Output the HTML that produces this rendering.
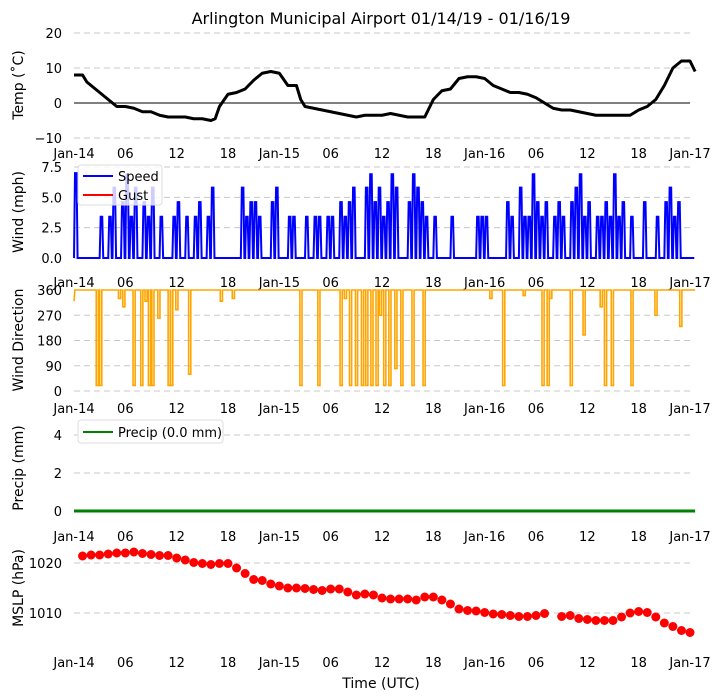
<!DOCTYPE html>
<html><head><meta charset="utf-8"><style>
body{margin:0;background:#fff;}
svg{display:block;font-family:"DejaVu Sans","Liberation Sans",sans-serif;}
</style></head><body>
<svg id="c" width="719" height="700" viewBox="0 0 719 700">
<text x="381" y="24" text-anchor="middle" font-size="16">Arlington Municipal Airport 01/14/19 - 01/16/19</text>
</svg>
<script>
const tempHours=[0,1,1.5,2,3,4,5,6,7,8,9,10,11,12,13,14,15,16,16.5,17,18,19,20,21,22,23,24,25,26,26.5,27,28,29,30,31,32,33,34,35,36,37,38,39,40,41,42,43,44,45,46,47,48,49,50,51,52,53,54,55,56,57,58,59,60,61,62,63,64,65,66,67,68,69,70,71,72,72.6];
const tempVals=[8,8,6,5,3,1,-1,-1,-1.5,-2.5,-2.5,-3.5,-4,-4,-4,-4.5,-4.5,-5,-4.5,-1,2.5,3,4,6.5,8.5,9,8.5,5,5,1,-1,-1.5,-2,-2.5,-3,-3.5,-4,-3.5,-3.5,-3.5,-3,-3.5,-4,-4,-4,1,3.5,4,7,7.5,7.5,7,5,4,3,3,2.5,1.5,0,-1.5,-2,-2,-2.5,-3,-3.5,-3.5,-3.5,-3.5,-3.5,-2,-1,1,5,10,12,12,9];
const windVals=[7,0,0,0,0,0,3.4,0,3.4,5.8,0,4.6,6.9,3.4,5.8,0,4.6,3.4,5.8,0,3.4,0,0,3.4,4.6,0,3.4,0,3.4,4.6,0,3.4,5.8,0,0,0,0,0,0,5.8,3.4,4.6,4.6,3.4,0,0,4.6,5.8,0,0,3.4,3.4,0,0,3.4,0,3.4,3.4,0,3.4,3.4,0,4.6,3.4,4.6,5.8,0,0,5.8,6.9,4.6,5.8,3.4,4.6,6.9,5.8,0,0,4.6,6.9,5.8,4.6,3.4,0,3.4,0,0,0,3.4,0,0,0,0,0,3.4,3.4,3.4,0,0,0,0,4.6,3.4,0,5.8,3.4,3.4,6.9,4.6,3.4,4.6,0,3.4,4.6,3.4,0,4.6,5.8,6.9,3.4,4.6,0,3.4,3.4,4.6,3.4,6.9,3.4,4.6,0,3.4,0,0,4.6,0,0,3.4,0,4.6,5.8,3.4,4.6,0,0,0];
const dirDipHours=[2.6,3.0,5.2,5.7,6.9,7.8,8.3,8.7,9.1,9.8,11.0,11.3,11.9,13.4,17.1,18.5,26.4,28.5,31.1,31.6,32.2,32.9,33.6,34.1,34.7,35.3,35.7,36.2,36.8,37.5,38.2,39.5,40.8,48.6,50.1,52.5,54.7,55.3,55.6,58.0,59.5,61.5,62.0,62.8,65.1,67.9,70.8];
const dirDipVals=[20,20,330,300,20,20,320,20,20,260,20,20,290,60,320,330,20,20,20,330,20,20,20,20,20,20,270,20,20,80,20,20,20,330,20,340,20,20,330,20,200,300,20,20,20,270,230];
const precipHours=[0,72.6];
const precipVals=[0,0];
const mslpHours=[1,2,3,4,5,6,7,8,9,10,11,12,13,14,15,16,17,18,19,20,21,22,23,24,25,26,27,28,29,30,31,32,33,34,35,36,37,38,39,40,41,42,43,44,45,46,47,48,49,50,51,52,53,54,55,57,58,59,60,61,62,63,64,65,66,67,68,69,70,71,72];
const mslpVals=[1021.4,1021.6,1021.6,1021.8,1022.0,1022.0,1022.2,1021.9,1021.7,1021.5,1021.5,1021.0,1020.6,1020.1,1019.9,1019.7,1019.9,1019.9,1019.0,1017.9,1016.7,1016.5,1015.8,1015.4,1015.0,1015.0,1014.9,1014.7,1014.5,1014.8,1014.8,1014.2,1013.6,1013.8,1013.6,1013.0,1012.8,1012.8,1012.8,1012.6,1013.2,1013.2,1012.6,1011.8,1010.8,1010.5,1010.4,1010.1,1009.8,1009.7,1009.5,1009.3,1009.3,1009.5,1009.9,1009.3,1009.5,1008.9,1008.7,1008.5,1008.5,1008.5,1009.2,1010.0,1010.3,1010.1,1009.2,1008.0,1007.3,1006.5,1006.1];
const xTickHours=[0,6,12,18,24,30,36,42,48,54,60,66,72];
const xTickLabels=["Jan-14","06","12","18","Jan-15","06","12","18","Jan-16","06","12","18","Jan-17"];

const NS="http://www.w3.org/2000/svg";
const svg=document.getElementById('c');
function mk(tag,attrs,parent){const e=document.createElementNS(NS,tag);for(const k in attrs)e.setAttribute(k,attrs[k]);(parent||svg).appendChild(e);return e;}
const X=h=>74+h*(616/72);
function lin(d0,d1,p0,p1){return v=>p0+(v-d0)*(p1-p0)/(d1-d0);}

function panel(name,yf,ticks,tickLabels,labelY,ylab,ylabY){
  const g=mk('g',{});
  
  
  ticks.forEach((t,i)=>{
    const y=yf(t);
    const gl=mk('line',{x1:74,x2:690,y1:y,y2:y,stroke:'#c8c8c8','stroke-dasharray':'6,4','stroke-width':1},g);
    
    
    const tl=mk('text',{x:62,y:y+5,'text-anchor':'end','font-size':13},g);
    tl.textContent=tickLabels[i];
    
    
  });
  xTickHours.forEach((h,i)=>{
    const t=mk('text',{x:X(h),y:labelY,'text-anchor':'middle','font-size':13},g);
    t.textContent=xTickLabels[i];
    
    
  });
  const yl=mk('text',{x:0,y:0,'text-anchor':'middle','font-size':14,transform:`translate(23,${ylabY}) rotate(-90)`},g);
  yl.textContent=ylab;
  
  
  return g;
}

// Temperature
const yT=lin(-10,20,138,33);
const gT=panel('temp',yT,[-10,0,10,20],['−10','0','10','20'],158,'Temp (˚C)',85);
const z=mk('line',{x1:74,x2:690,y1:yT(0),y2:yT(0),stroke:'#000','stroke-width':1},gT);


let d='';tempHours.forEach((h,i)=>{d+=(i?'L':'M')+`${X(h)} ${yT(tempVals[i])}`;});
const tp=mk('path',{d:d,fill:'none',stroke:'#000','stroke-width':3,'stroke-linejoin':'round'},gT);



// Wind
const yW=lin(0,7.5,258,167);
const gW=panel('wind',yW,[0,2.5,5,7.5],['0.0','2.5','5.0','7.5'],287,'Wind (mph)',212);
d='';windVals.forEach((v,i)=>{const x0=X(i*0.5),x1=X(i*0.5+0.3),x2=X(i*0.5+0.5);d+=(i?'L':'M')+`${x0} ${yW(0)}L${x0+1} ${yW(v)}L${x1} ${yW(v)}L${x1+1} ${yW(0)}L${x2} ${yW(0)}`;});
const wp=mk('path',{d:d,fill:'none',stroke:'#0000ff','stroke-width':2},gW);


const lg=mk('g',{},gW);


mk('rect',{x:78,y:165,width:84,height:40,fill:'#fff','fill-opacity':0.8,stroke:'#ddd',rx:3},lg);
mk('line',{x1:83,x2:113,y1:176,y2:176,stroke:'#0000ff','stroke-width':2},lg);
mk('line',{x1:83,x2:113,y1:195,y2:195,stroke:'#ff0000','stroke-width':2},lg);
const t1=mk('text',{x:118,y:181,'font-size':13},lg);t1.textContent='Speed';


const t2=mk('text',{x:118,y:200,'font-size':13},lg);t2.textContent='Gust';



// Wind direction
const yD=lin(0,360,391,290);
const gD=panel('direction',yD,[0,90,180,270,360],['0','90','180','270','360'],413,'Wind Direction',340);
d=`M${X(0)} ${yD(320)}L${X(0.1)} ${yD(360)}`;
dirDipHours.forEach((h,i)=>{const a=X(h),b=X(h+0.25);d+=`L${a} ${yD(360)}L${a} ${yD(dirDipVals[i])}L${b} ${yD(dirDipVals[i])}L${b} ${yD(360)}`;});
d+=`L${X(72.6)} ${yD(360)}`;
const dp=mk('path',{d:d,fill:'none',stroke:'#ffa500','stroke-width':1.6},gD);



// Precip
const yP=lin(0,4,511,435);
const gP=panel('precip',yP,[0,2,4],['0','2','4'],541,'Precip (mm)',468);
const pp=mk('line',{x1:X(precipHours[0]),x2:X(precipHours[1]),y1:yP(precipVals[0]),y2:yP(precipVals[1]),stroke:'#008000','stroke-width':3},gP);


const lg2=mk('g',{},gP);


mk('rect',{x:78,y:420,width:145,height:23,fill:'#fff',stroke:'#ddd',rx:3},lg2);
mk('line',{x1:83,x2:113,y1:432,y2:432,stroke:'#008000','stroke-width':2},lg2);
const t3=mk('text',{x:118,y:437,'font-size':13},lg2);t3.textContent='Precip (0.0 mm)';



// MSLP
const yM=lin(1010,1020,613,563);
const gM=panel('mslp',yM,[1010,1020],['1010','1020'],667,'MSLP (hPa)',588);
mslpHours.forEach((h,i)=>{
  const c=mk('circle',{cx:X(h),cy:yM(mslpVals[i]),r:4.5,fill:'#ff0000'},gM);
  
  
});
const xt=mk('text',{x:381,y:688,'text-anchor':'middle','font-size':14});
xt.textContent='Time (UTC)';


</script>
</body></html>
